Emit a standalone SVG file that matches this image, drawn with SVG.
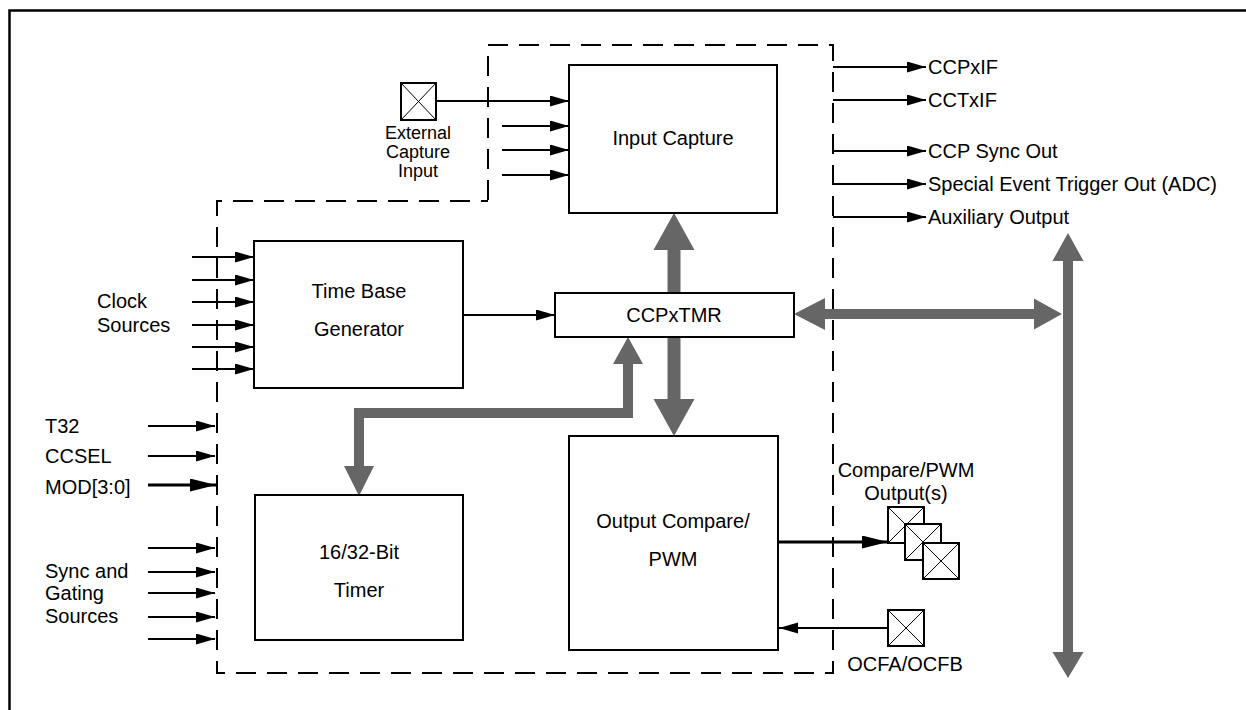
<svg xmlns="http://www.w3.org/2000/svg" width="1246" height="710" viewBox="0 0 1246 710">
<defs>
<marker id="ah" markerUnits="userSpaceOnUse" markerWidth="20" markerHeight="12" refX="19" refY="5.5" orient="auto"><path d="M0,0 L19,5.5 L0,11 z" fill="#000"/></marker>
<marker id="ahb" markerUnits="userSpaceOnUse" markerWidth="27" markerHeight="14" refX="26" refY="6.5" orient="auto"><path d="M0,0 L26,6.5 L0,13 z" fill="#000"/></marker>
<style>
text{font-family:"Liberation Sans",Arial,sans-serif;font-size:20px;fill:#000}
.c{text-anchor:middle}
.s{font-size:18px}
.box{fill:#fff;stroke:#000;stroke-width:2}
.dash{fill:none;stroke:#000;stroke-width:2;stroke-dasharray:20,11}
.w{fill:none;stroke:#000;stroke-width:2;marker-end:url(#ah)}
.wb{fill:none;stroke:#000;stroke-width:3;marker-end:url(#ahb)}
.g{fill:#666}
.gs{fill:none;stroke:#666;stroke-width:10}
.pin{fill:#fff;stroke:#000;stroke-width:2}
.x{stroke:#000;stroke-width:1}
</style>
</defs>
<path d="M9.5,710 V10.5 H1246" fill="none" stroke="#000" stroke-width="2.5"/>
<path class="dash" d="M488,200 V45 H833 V673 H217 V201 H488"/>
<g id="connectors">
<line class="w" x1="436" y1="101" x2="569" y2="101"/>
<line class="w" x1="502" y1="126" x2="569" y2="126"/>
<line class="w" x1="502" y1="150" x2="569" y2="150"/>
<line class="w" x1="502" y1="175" x2="569" y2="175"/>
<line class="w" x1="192" y1="257" x2="254" y2="257"/>
<line class="w" x1="192" y1="280" x2="254" y2="280"/>
<line class="w" x1="192" y1="302" x2="254" y2="302"/>
<line class="w" x1="192" y1="325" x2="254" y2="325"/>
<line class="w" x1="192" y1="347" x2="254" y2="347"/>
<line class="w" x1="192" y1="369" x2="254" y2="369"/>
<line class="w" x1="148" y1="426" x2="215" y2="426"/>
<line class="w" x1="148" y1="456" x2="215" y2="456"/>
<line class="wb" x1="148" y1="485" x2="216" y2="485"/>
<line class="w" x1="148" y1="548" x2="215" y2="548"/>
<line class="w" x1="148" y1="572" x2="215" y2="572"/>
<line class="w" x1="148" y1="593" x2="215" y2="593"/>
<line class="w" x1="148" y1="617" x2="215" y2="617"/>
<line class="w" x1="148" y1="639" x2="215" y2="639"/>
<line class="w" x1="463" y1="315" x2="555" y2="315"/>
<line class="w" x1="833" y1="67" x2="926" y2="67"/>
<line class="w" x1="833" y1="100" x2="926" y2="100"/>
<line class="w" x1="833" y1="151" x2="926" y2="151"/>
<line class="w" x1="833" y1="184" x2="926" y2="184"/>
<line class="w" x1="833" y1="217" x2="926" y2="217"/>
<line class="wb" x1="778" y1="542" x2="888" y2="542"/>
<line class="w" x1="888" y1="628" x2="779" y2="628"/>
<rect class="g" x="667.5" y="248" width="13" height="152"/>
<polygon class="g" points="674,213 694.5,250 653.5,250"/>
<polygon class="g" points="674,436 694.5,399 653.5,399"/>
<polyline class="gs" points="628,362 628,413 359,413 359,468"/>
<polygon class="g" points="628,337 643,364 613,364"/>
<polygon class="g" points="359,496 374,466 344,466"/>
<rect class="g" x="823" y="309" width="213" height="10"/>
<polygon class="g" points="794,314 825,298 825,330"/>
<polygon class="g" points="1062,314 1034,298.5 1034,329.5"/>
<rect class="g" x="1063" y="259" width="10" height="396"/>
<polygon class="g" points="1068,233 1083.5,261 1052.5,261"/>
<polygon class="g" points="1068,678 1083.5,652 1052.5,652"/>
</g>
<g id="input-capture"><rect class="box" x="569" y="65" width="208" height="148"/><text class="c" x="673" y="145">Input Capture</text></g>
<g id="time-base"><rect class="box" x="254" y="241" width="209" height="147"/><text class="c" x="359" y="298">Time Base</text><text class="c" x="359" y="336">Generator</text></g>
<g id="ccpxtmr"><rect class="box" x="555" y="293" width="239" height="44"/><text class="c" x="674" y="322">CCPxTMR</text></g>
<g id="timer"><rect class="box" x="255" y="495" width="208" height="145"/><text class="c" x="359" y="559">16/32-Bit</text><text class="c" x="359" y="597">Timer</text></g>
<g id="output-compare"><rect class="box" x="569" y="436" width="209" height="214"/><text class="c" x="673" y="528">Output Compare/</text><text class="c" x="673" y="566">PWM</text></g>
<g id="ext-capture"><rect class="pin" x="401" y="83" width="35" height="37"/><path class="x" d="M401,83 L436,120 M436,83 L401,120"/><text class="c s" x="418" y="139">External</text><text class="c s" x="418" y="158">Capture</text><text class="c s" x="418" y="177">Input</text></g>
<g id="clock-sources"><text x="97" y="308">Clock</text><text x="97" y="332">Sources</text></g>
<g id="mode-inputs"><text x="45" y="433">T32</text><text x="45" y="463">CCSEL</text><text x="45" y="494">MOD[3:0]</text></g>
<g id="sync-sources"><text x="45" y="578">Sync and</text><text x="45" y="600">Gating</text><text x="45" y="623">Sources</text></g>
<g id="outputs"><text x="928" y="74">CCPxIF</text><text x="928" y="107">CCTxIF</text><text x="928" y="158">CCP Sync Out</text><text x="928" y="191">Special Event Trigger Out (ADC)</text><text x="928" y="224">Auxiliary Output</text></g>
<g id="compare-pwm-out"><text class="c" x="906" y="477">Compare/PWM</text><text class="c" x="906" y="500">Output(s)</text>
<rect class="pin" x="888" y="507" width="36" height="36"/><path class="x" d="M888,507 L924,543 M924,507 L888,543"/>
<rect class="pin" x="905" y="524" width="36" height="36"/><path class="x" d="M905,524 L941,560 M941,524 L905,560"/>
<rect class="pin" x="923" y="543" width="36" height="36"/><path class="x" d="M923,543 L959,579 M959,543 L923,579"/></g>
<g id="ocfa"><rect class="pin" x="888" y="610" width="36" height="36"/><path class="x" d="M888,610 L924,646 M924,610 L888,646"/><text class="c" x="905" y="671">OCFA/OCFB</text></g>
</svg>
